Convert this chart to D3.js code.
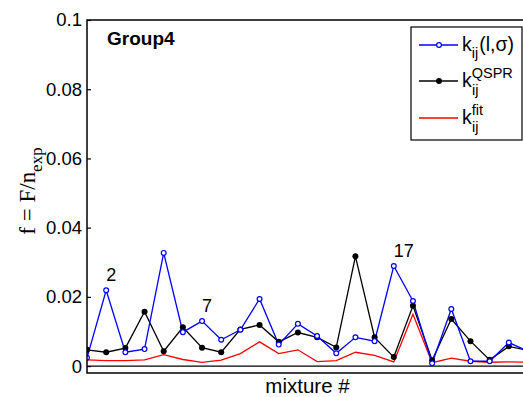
<!DOCTYPE html>
<html>
<meta charset="utf-8">
<head>
<title>Group4</title>
<script src="https://cdn.jsdelivr.net/npm/d3@7"></script>
<style>
  body { margin: 0; background: #fff; }
  text { font-family: "Liberation Sans", Arial, sans-serif; }
</style>
</head>
<body>
<script>
// mixture index 1..24
var mixtures = d3.range(1, 25);
var kIs   = [0.0024, 0.0219, 0.0040, 0.0049, 0.0327, 0.0098, 0.0130, 0.0076, 0.0105, 0.0194, 0.0062, 0.0122,
             0.0087, 0.0037, 0.0083, 0.0072, 0.0289, 0.0188, 0.0008, 0.0165, 0.0014, 0.0014, 0.0068, 0.0043];
var kQspr = [0.0047, 0.0040, 0.0052, 0.0157, 0.0043, 0.0112, 0.0053, 0.0040, 0.0106, 0.0119, 0.0070, 0.0097,
             0.0083, 0.0054, 0.0317, 0.0083, 0.0026, 0.0174, 0.0017, 0.0136, 0.0072, 0.0018, 0.0057, 0.0045];
var kFit  = [0.0018, 0.0016, 0.0016, 0.0018, 0.0033, 0.0019, 0.0011, 0.0017, 0.0036, 0.0070, 0.0036, 0.0047,
             0.0013, 0.0016, 0.0040, 0.0031, 0.0012, 0.0150, 0.0010, 0.0023, 0.0014, 0.0011, 0.0012, 0.0011];
var yTicks = [0, 0.02, 0.04, 0.06, 0.08, 0.1];
var yTickLabels = ["0", "0.02", "0.04", "0.06", "0.08", "0.1"];
var marked = [2, 7, 17];

var axL = 87, axT = 20, axR = 528, axB = 373;
var svg = d3.select("body").append("svg")
    .attr("width", 523).attr("height", 397);

var x = d3.scaleLinear().domain([1, 24]).range([axL, axR]);
var y = d3.scaleLinear().domain([-0.002, 0.1]).range([axB, axT]);

svg.append("clipPath").attr("id", "clip")
  .append("rect").attr("x", axL).attr("y", axT).attr("width", axR - axL).attr("height", axB - axT);

var plot = svg.append("g").attr("clip-path", "url(#clip)");

// zero line
plot.append("line")
    .attr("x1", axL).attr("x2", axR)
    .attr("y1", y(0)).attr("y2", y(0))
    .attr("stroke", "#000").attr("stroke-width", 1.2);

function series(vals, color) {
  var line = d3.line().x(function(d, i) { return x(mixtures[i]); }).y(function(d) { return y(d); });
  plot.append("path").datum(vals)
      .attr("d", line).attr("fill", "none")
      .attr("stroke", color).attr("stroke-width", 1.3);
}
series(kFit, "#ff0000");
series(kQspr, "#000");
series(kIs, "#0000ff");

plot.selectAll(".dq").data(kQspr).enter().append("circle")
    .attr("cx", function(d, i) { return x(mixtures[i]); })
    .attr("cy", function(d) { return y(d); })
    .attr("r", 3).attr("fill", "#000");
plot.selectAll(".db").data(kIs).enter().append("circle")
    .attr("cx", function(d, i) { return x(mixtures[i]); })
    .attr("cy", function(d) { return y(d); })
    .attr("r", 2.4).attr("fill", "#fff").attr("stroke", "#0000ff").attr("stroke-width", 1.2);

// labels of some mixtures
svg.selectAll(".lab").data(marked).enter().append("text")
    .attr("x", function(d) { return x(d); })
    .attr("y", function(d) { return y(kIs[d - 1]) - 9.5; })
    .attr("font-size", 18).text(function(d) { return d; });

// axes frame
var yAxis = d3.axisLeft(y).tickValues(yTicks).tickSizeInner(-4).tickSizeOuter(0)
    .tickFormat(function(d, i) { return yTickLabels[i]; });
var ga = svg.append("g").attr("transform", "translate(" + axL + ",0)").call(yAxis);
ga.select(".domain").remove();
ga.selectAll("line").attr("stroke", "#000").attr("stroke-width", 1.2);
ga.selectAll("text").attr("x", -5).attr("font-size", 18.5)
    .attr("font-family", "Liberation Sans, Arial, sans-serif").attr("fill", "#000");

svg.append("path")
    .attr("d", "M" + axR + "," + axT + "H" + axL + "V" + axB + "H" + axR)
    .attr("fill", "none").attr("stroke", "#000").attr("stroke-width", 1.5);

svg.append("text").attr("x", 107).attr("y", 45)
    .attr("font-size", 19).attr("font-weight", "bold").text("Group4");

svg.append("text").attr("x", (axL + axR) / 2).attr("y", 393)
    .attr("text-anchor", "middle").attr("font-size", 20.5).text("mixture #");

// y label
var yl = svg.append("text")
    .attr("transform", "translate(35,191) rotate(-90)")
    .attr("text-anchor", "middle")
    .style("font-family", "Liberation Serif, Times New Roman, serif")
    .attr("font-size", 23);
yl.append("tspan").text("f = F/n");
yl.append("tspan").attr("font-size", 17).attr("dy", 7).text("exp");

// legend
var lg = svg.append("g");
lg.append("rect").attr("x", 411).attr("y", 27).attr("width", 111).attr("height", 113)
    .attr("fill", "#fff").attr("stroke", "#000").attr("stroke-width", 1.2);
var entries = [
  {color: "#0000ff", marker: "open", sup: "", after: "(l,\u03c3)", cy: 45},
  {color: "#000", marker: "dot", sup: "QSPR", after: "", cy: 81},
  {color: "#ff0000", marker: "none", sup: "fit", after: "", cy: 118}
];
entries.forEach(function(e) {
  lg.append("line").attr("x1", 419).attr("x2", 458).attr("y1", e.cy).attr("y2", e.cy)
    .attr("stroke", e.color).attr("stroke-width", 1.3);
  if (e.marker === "open")
    lg.append("circle").attr("cx", 439).attr("cy", e.cy).attr("r", 2.4)
      .attr("fill", "#fff").attr("stroke", e.color).attr("stroke-width", 1.2);
  if (e.marker === "dot")
    lg.append("circle").attr("cx", 439).attr("cy", e.cy).attr("r", 3).attr("fill", e.color);
  var t = lg.append("text").attr("x", 462).attr("y", e.cy + 6).attr("font-size", 19.5);
  t.append("tspan").text("k");
  if (e.sup) {
    t.append("tspan").attr("font-size", 14.5).attr("dy", -9).text(e.sup);
    lg.append("text").attr("x", 472).attr("y", e.cy + 14).attr("font-size", 14.5).text("ij");
  } else {
    t.append("tspan").attr("font-size", 14.5).attr("dy", 7).text("ij");
    t.append("tspan").attr("font-size", 19.5).attr("dy", -7).attr("dx", 1).text(e.after);
  }
});
</script>
</body>
</html>
